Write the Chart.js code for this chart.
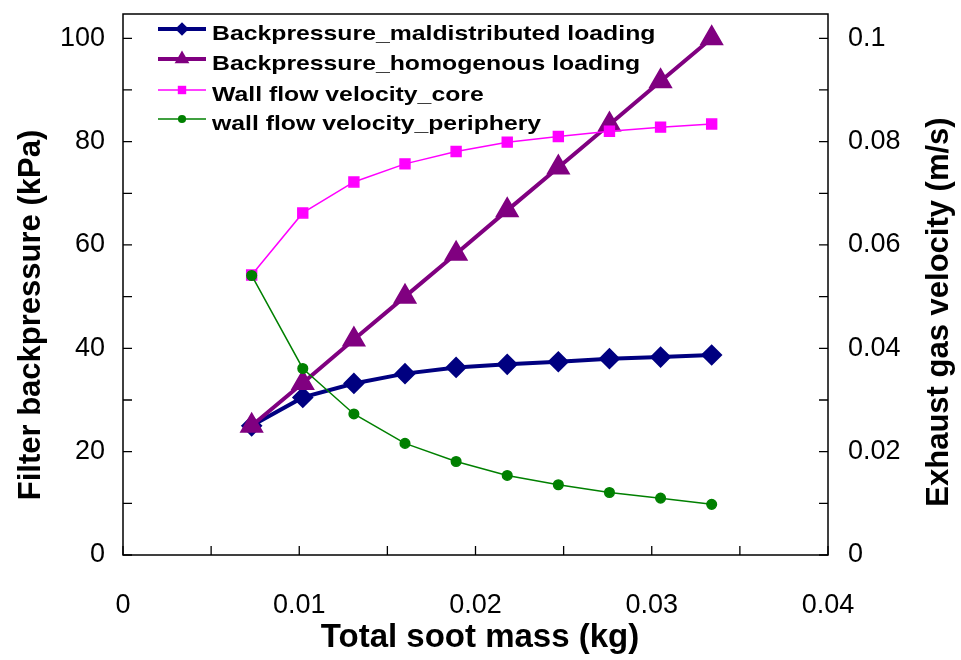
<!DOCTYPE html>
<html>
<head>
<meta charset="utf-8">
<script src="https://cdn.jsdelivr.net/npm/chart.js@4.4.1/dist/chart.umd.min.js"></script>
<style>
html, body { margin: 0; padding: 0; background: #fff; }
</style>
</head>
<body>
<canvas id="chart" width="961" height="660"></canvas>
<script>
"use strict";

// data
var sootMass = [0.0073, 0.0102, 0.0131, 0.0160, 0.0189, 0.0218, 0.0247, 0.0276, 0.0305, 0.0334];
var maldistributed = [25.0, 30.5, 33.2, 35.1, 36.3, 36.9, 37.4, 38.0, 38.3, 38.7];
var homogenous = [25.0, 33.3, 41.7, 50.0, 58.3, 66.7, 75.0, 83.3, 91.7, 100.0];
var velocityCore = [0.0542, 0.0662, 0.0722, 0.0757, 0.0781, 0.0799, 0.0810, 0.0820, 0.0828, 0.0834];
var velocityPeriphery = [0.0541, 0.0361, 0.0273, 0.0216, 0.0181, 0.0154, 0.0136, 0.0121, 0.0110, 0.0098];

// tick marks and which of them carry a label
var xTicks = [0, 0.005, 0.01, 0.015, 0.02, 0.025, 0.03, 0.035, 0.04];
var xTickLabels = [0, 0.01, 0.02, 0.03, 0.04];
var pressureTicks = [0, 10, 20, 30, 40, 50, 60, 70, 80, 90, 100];
var pressureTickLabels = [0, 20, 40, 60, 80, 100];
var velocityTicks = [0, 0.01, 0.02, 0.03, 0.04, 0.05, 0.06, 0.07, 0.08, 0.09, 0.1];
var velocityTickLabels = [0, 0.02, 0.04, 0.06, 0.08, 0.1];

var xTitle = "Total soot mass (kg)";
var yTitle = "Filter backpressure (kPa)";
var y1Title = "Exhaust gas velocity (m/s)";

function toPoints(xs, ys) {
    return xs.map(function (x, i) { return { x: x, y: ys[i] }; });
}

function hasLabel(list, v) {
    return list.some(function (t) { return Math.abs(t - v) < 1e-9; });
}

function setTicks(list) {
    return function (s) {
        s.ticks = list.map(function (v) { return { value: v }; });
    };
}

function fixSize(dim, size) {
    return function (s) {
        s[dim] = size;
        s.paddingTop = 0; s.paddingBottom = 0;
        s.paddingLeft = 0; s.paddingRight = 0;
    };
}

var FONT = "'Liberation Sans', Arial, sans-serif";
Chart.defaults.font.family = FONT;
Chart.defaults.color = "#000";

function drawMarker(ctx, shape, x, y, r) {
    ctx.beginPath();
    if (shape === "rectRot") {
        ctx.moveTo(x - r, y); ctx.lineTo(x, y - r); ctx.lineTo(x + r, y); ctx.lineTo(x, y + r);
    } else if (shape === "triangle") {
        for (var k = 0; k < 3; k++) {
            var a = k * 2 * Math.PI / 3;
            ctx.lineTo(x + Math.sin(a) * r, y - Math.cos(a) * r);
        }
    } else if (shape === "rect") {
        var s = Math.SQRT1_2 * r;
        ctx.rect(x - s, y - s, 2 * s, 2 * s);
    } else {
        ctx.arc(x, y, r, 0, Math.PI * 2);
    }
    ctx.closePath();
    ctx.fill();
}

function drawTitle(ctx, text, x, y, rotate, size) {
    ctx.save();
    ctx.translate(x, y);
    if (rotate) ctx.rotate(-Math.PI / 2);
    ctx.font = "bold " + size + "px " + FONT;
    ctx.fillStyle = "#000";
    ctx.textAlign = "center";
    ctx.textBaseline = "middle";
    ctx.fillText(text, 0, 0);
    ctx.restore();
}

// frame, inward tick marks, axis titles and legend inside the plot
var framePlugin = {
    id: "frame",
    beforeDatasetsDraw: function (chart) {
        var ctx = chart.ctx, a = chart.chartArea, sc = chart.scales;
        ctx.save();
        ctx.strokeStyle = "#000";
        ctx.lineWidth = 1.5;
        ctx.strokeRect(a.left, a.top, a.right - a.left, a.bottom - a.top);
        ctx.lineWidth = 1.3;
        ctx.beginPath();
        sc.x.ticks.forEach(function (t) {
            var px = sc.x.getPixelForValue(t.value);
            ctx.moveTo(px, a.bottom); ctx.lineTo(px, a.bottom - 9);
        });
        sc.y.ticks.forEach(function (t) {
            var py = sc.y.getPixelForValue(t.value);
            ctx.moveTo(a.left, py); ctx.lineTo(a.left + 9, py);
        });
        sc.y1.ticks.forEach(function (t) {
            var py = sc.y1.getPixelForValue(t.value);
            ctx.moveTo(a.right, py); ctx.lineTo(a.right - 9, py);
        });
        ctx.stroke();
        ctx.restore();

        drawTitle(ctx, xTitle, 480, 638, false, 33);
        drawTitle(ctx, yTitle, 31, 315, true, 31);
        drawTitle(ctx, y1Title, 939, 312, true, 31);
    },
    afterDraw: function (chart) {
        var ctx = chart.ctx;
        var rows = [29, 59, 90, 119];
        ctx.save();
        chart.data.datasets.forEach(function (ds, i) {
            var y = rows[i];
            ctx.strokeStyle = ds.borderColor;
            ctx.fillStyle = ds.borderColor;
            ctx.lineWidth = ds.borderWidth;
            ctx.beginPath();
            ctx.moveTo(158, y); ctx.lineTo(206, y);
            ctx.stroke();
            drawMarker(ctx, ds.pointStyle, 182, y, ds.pointRadius * 0.85);
            ctx.fillStyle = "#000";
            ctx.font = "bold 21px " + FONT;
            ctx.textBaseline = "alphabetic";
            ctx.save();
            ctx.translate(212, y + 11);
            ctx.scale(1.18, 1);
            ctx.fillText(ds.label, 0, 0);
            ctx.restore();
        });
        ctx.restore();
    }
};

var ctx = document.getElementById("chart").getContext("2d");
var myChart = new Chart(ctx, {
    type: "line",
    data: {
        datasets: [{
                label: "Backpressure_maldistributed loading",
                data: toPoints(sootMass, maldistributed),
                yAxisID: "y",
                borderColor: "#000080",
                backgroundColor: "#000080",
                borderWidth: 4,
                pointStyle: "rectRot",
                pointRadius: 8,
                order: 4
            },
            {
                label: "Backpressure_homogenous loading",
                data: toPoints(sootMass, homogenous),
                yAxisID: "y",
                borderColor: "#800080",
                backgroundColor: "#800080",
                borderWidth: 4,
                pointStyle: "triangle",
                pointRadius: 10,
                order: 3
            },
            {
                label: "Wall flow velocity_core",
                data: toPoints(sootMass, velocityCore),
                yAxisID: "y1",
                borderColor: "#FF00FF",
                backgroundColor: "#FF00FF",
                borderWidth: 1.5,
                pointStyle: "rect",
                pointRadius: 7,
                order: 2
            },
            {
                label: "wall flow velocity_periphery",
                data: toPoints(sootMass, velocityPeriphery),
                yAxisID: "y1",
                borderColor: "#008000",
                backgroundColor: "#008000",
                borderWidth: 1.5,
                pointStyle: "circle",
                pointRadius: 4.8,
                order: 1
            }
        ]
    },
    options: {
        responsive: false,
        animation: false,
        devicePixelRatio: 1,
        layout: { padding: { top: 12, left: 0, right: 0, bottom: 0 } },
        elements: {
            line: { tension: 0 },
            point: { borderWidth: 1, hoverRadius: 8 }
        },
        plugins: {
            legend: { display: false },
            tooltip: { enabled: false }
        },
        scales: {
            x: {
                type: "linear",
                min: 0,
                max: 0.04,
                grid: { display: false, drawTicks: false },
                border: { display: false },
                afterBuildTicks: setTicks(xTicks),
                ticks: {
                    autoSkip: false,
                    maxRotation: 0,
                    padding: 34,
                    font: { size: 27 },
                    callback: function (v) {
                        return hasLabel(xTickLabels, v) ? String(+v.toFixed(3)) : "";
                    }
                },
                title: { display: false },
                afterFit: fixSize("height", 105)
            },
            y: {
                position: "left",
                min: 0,
                max: 104.7,
                grid: { display: false, drawTicks: false },
                border: { display: false },
                afterBuildTicks: setTicks(pressureTicks),
                ticks: {
                    autoSkip: false,
                    padding: 18,
                    font: { size: 27 },
                    callback: function (v) {
                        return hasLabel(pressureTickLabels, v) ? String(v) : "";
                    }
                },
                title: { display: false },
                afterFit: fixSize("width", 123)
            },
            y1: {
                position: "right",
                min: 0,
                max: 0.1047,
                grid: { display: false, drawTicks: false },
                border: { display: false },
                afterBuildTicks: setTicks(velocityTicks),
                ticks: {
                    autoSkip: false,
                    padding: 20,
                    font: { size: 27 },
                    callback: function (v) {
                        return hasLabel(velocityTickLabels, v) ? String(+v.toFixed(2)) : "";
                    }
                },
                title: { display: false },
                afterFit: fixSize("width", 133)
            }
        }
    },
    plugins: [framePlugin]
});
</script>
</body>
</html>
